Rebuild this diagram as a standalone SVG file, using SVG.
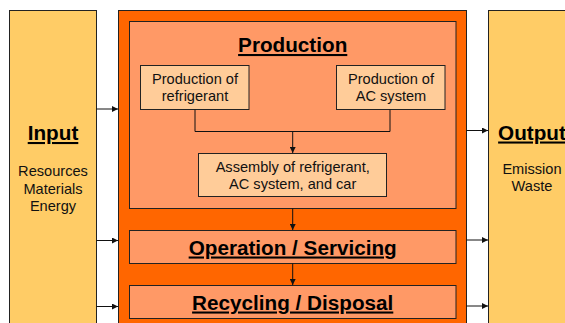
<svg xmlns="http://www.w3.org/2000/svg" width="565" height="323" viewBox="0 0 565 323">
  <defs>
    <marker id="arrow" viewBox="0 0 10 10" refX="10" refY="5" markerWidth="6" markerHeight="6" markerUnits="userSpaceOnUse" orient="auto">
      <path d="M0,0 L10,5 L0,10 Z" fill="#111"/>
    </marker>
    <style>
      .side { fill: #FFCC66; stroke: #222; stroke-width: 1; }
      .main { fill: #FF6600; stroke: #222; stroke-width: 1; }
      .stage { fill: #FF9966; stroke: #222; stroke-width: 1; }
      .sub { fill: #FFCC99; stroke: #222; stroke-width: 1; }
      .title { font-family: "Liberation Sans", Arial, sans-serif; font-weight: bold; font-size: 20.7px; text-decoration: underline; fill: #000; text-anchor: middle; }
      .label { font-family: "Liberation Sans", Arial, sans-serif; font-size: 14.6px; fill: #111; text-anchor: middle; }
      .conn { fill: none; stroke: #111; stroke-width: 1; }
    </style>
  </defs>

  <rect x="0" y="0" width="565" height="323" fill="#fff"/>

  <g id="input">
    <rect class="side" x="9.5" y="10.5" width="87" height="320"/>
    <text class="title" x="53" y="140">Input</text>
    <text class="label" x="53" y="176">Resources</text>
    <text class="label" x="53" y="193.5">Materials</text>
    <text class="label" x="53" y="211">Energy</text>
  </g>

  <g id="output">
    <rect class="side" x="488.5" y="10.5" width="87" height="320"/>
    <text class="title" x="532" y="139.5">Output</text>
    <text class="label" x="532" y="174">Emission</text>
    <text class="label" x="532" y="191">Waste</text>
  </g>

  <g id="lifecycle">
    <rect class="main" x="118.5" y="10.5" width="348" height="320"/>
  </g>

  <g id="production">
    <rect class="stage" x="129.5" y="21.5" width="326.5" height="187"/>
    <text class="title" x="292.7" y="52">Production</text>
  </g>

  <g id="refrigerant">
    <rect class="sub" x="140.5" y="65.5" width="108.5" height="44"/>
    <text class="label" x="195" y="84">Production of</text>
    <text class="label" x="195" y="101">refrigerant</text>
  </g>

  <g id="ac-system">
    <rect class="sub" x="336.5" y="65.5" width="108.5" height="44"/>
    <text class="label" x="391" y="84">Production of</text>
    <text class="label" x="391" y="101">AC system</text>
  </g>

  <g id="assembly">
    <rect class="sub" x="198.5" y="153.5" width="188" height="43"/>
    <text class="label" x="292.7" y="172">Assembly of refrigerant,</text>
    <text class="label" x="292.7" y="189">AC system, and car</text>
  </g>

  <g id="operation">
    <rect class="stage" x="129.5" y="230.5" width="326.5" height="33"/>
    <text class="title" x="292.7" y="254.5">Operation / Servicing</text>
  </g>

  <g id="recycling">
    <rect class="stage" x="129.5" y="285.5" width="326.5" height="33"/>
    <text class="title" x="292.7" y="309.5">Recycling / Disposal</text>
  </g>

  <g id="connectors">
    <path class="conn" d="M195,109.5 V131.5 H390 V109.5"/>
    <path class="conn" d="M292.7,131.5 V153" marker-end="url(#arrow)"/>
    <path class="conn" d="M292.7,208.5 V230" marker-end="url(#arrow)"/>
    <path class="conn" d="M292.7,263.5 V285" marker-end="url(#arrow)"/>
    <path class="conn" d="M96.5,109 H118" marker-end="url(#arrow)"/>
    <path class="conn" d="M96.5,240.5 H118" marker-end="url(#arrow)"/>
    <path class="conn" d="M96.5,306.5 H118" marker-end="url(#arrow)"/>
    <path class="conn" d="M466.5,130.5 H488" marker-end="url(#arrow)"/>
    <path class="conn" d="M466.5,240 H488" marker-end="url(#arrow)"/>
    <path class="conn" d="M466.5,306 H488" marker-end="url(#arrow)"/>
  </g>
</svg>
